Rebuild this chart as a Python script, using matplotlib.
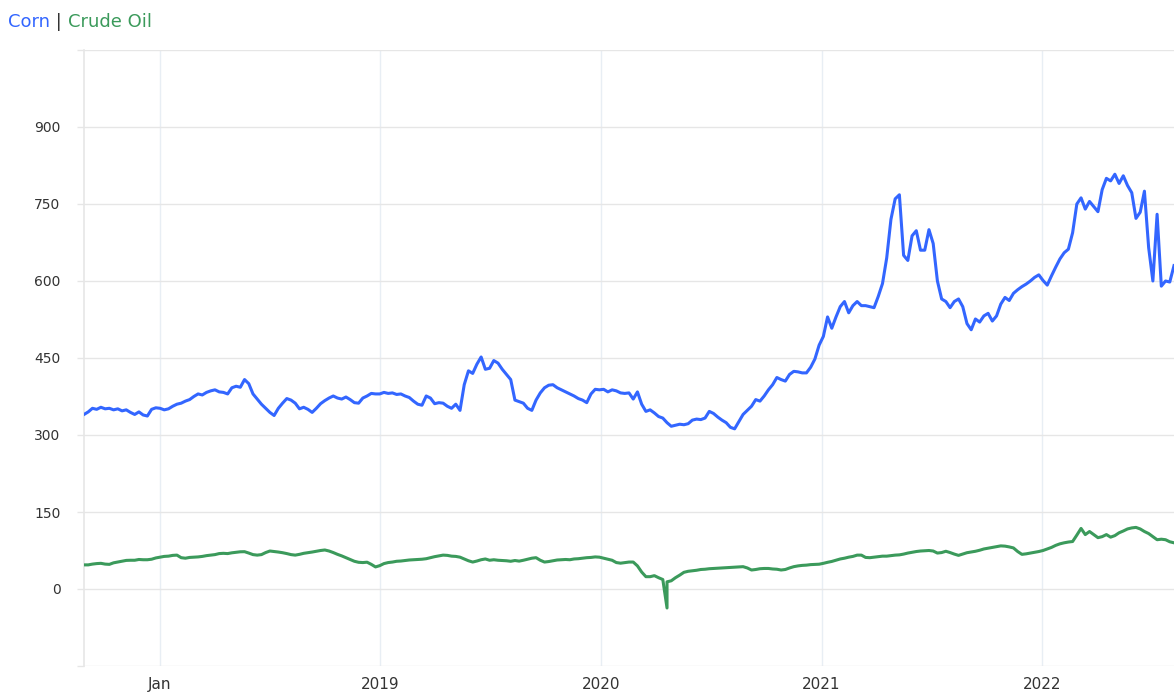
"""Corn vs crude oil weekly price chart."""

from __future__ import annotations

import matplotlib

matplotlib.use("Agg")
import matplotlib.pyplot as plt
import pandas as pd

START_DATE = "2017-08-28"

CORN = [
    340, 345, 352, 350, 354, 351, 352, 349, 351, 347, 349, 344, 340, 345, 339, 337,
    350, 353, 352, 349, 351, 356, 360, 362, 366, 369, 375, 380, 378, 383, 386, 388,
    384, 383, 380, 392, 395, 393, 408, 400, 380, 370, 360, 352, 344, 338, 352, 362,
    371, 368, 362, 351, 354, 350, 344, 352, 361, 367, 372, 376, 372, 370, 374, 369,
    363, 362, 372, 376, 381, 380, 380, 383, 381, 382, 379, 380, 376, 373, 366, 360,
    358, 376, 372, 361, 363, 362, 356, 352, 360, 348, 398, 425, 420, 438, 452, 428,
    430, 445, 440, 428, 418, 408, 368, 365, 362, 352, 348, 368, 382, 392, 397, 398,
    392, 388, 384, 380, 376, 371, 368, 363, 380, 389, 388, 389, 384, 388, 386, 382,
    381, 382, 370, 384, 360, 346, 349, 343, 336, 333, 324, 317, 319, 321, 320, 322,
    329, 331, 330, 333, 346, 342, 335, 329, 324, 315, 312, 326, 340, 348, 356, 369,
    366, 376, 388, 398, 412, 408, 405, 418, 424, 423, 421, 421, 432, 448, 475, 492,
    530, 508, 530, 550, 560, 538, 552, 560, 552, 552, 550, 548, 570, 595, 645, 720,
    760, 768, 650, 640, 688, 698, 660, 660, 700, 673, 600, 565, 560, 548, 560, 565,
    550, 517, 505, 526, 520, 532, 537, 522, 532, 555, 568, 562, 576, 583, 589, 594,
    600, 607, 612, 601, 592, 610, 627, 643, 655, 662, 694, 750, 762, 740, 755, 745,
    735, 778, 800, 795, 808, 790, 805, 786, 772, 722, 734, 775, 665, 600, 730, 590,
    600, 598, 630,
]

CRUDE_OIL = [
    47, 47, 48.5, 49.5, 50, 48.5, 48, 51, 52.5, 54, 55.7, 56, 56, 57.5, 57, 57,
    58, 60.5, 62, 63.5, 64, 65.5, 66, 61, 60, 61.5, 62, 62.5, 63.5, 65, 66, 67,
    69, 69.5, 69, 70.5, 71.5, 72.5, 72.7, 70, 67, 66, 67, 71, 74, 73, 72, 70.7,
    69, 67, 66, 67.5, 69.5, 70.7, 72, 73.5, 75, 76, 74, 71, 67.5, 64.5, 61, 57.5,
    54, 52, 51.5, 52.2, 48, 43, 45.5, 49.5, 51.5, 52.5, 54, 54.5, 55.5, 56.5, 57, 57.5,
    58, 59, 61, 63, 64.5, 66, 65.5, 64, 63.5, 62, 58.5, 55, 52.5, 54.5, 57, 58.5,
    56, 57, 56, 55.5, 55, 54, 55.5, 54.3, 56, 58, 60, 61, 56, 52.5, 53.5, 55,
    56.5, 57, 57.5, 57, 58.5, 59, 60, 61, 61.5, 62.5, 62, 60, 58, 56, 51.5, 50.3,
    51.5, 52.5, 52.5, 45, 33, 24, 24, 26, 22, 18.5, 14, 16, 22, 27, 32.5, 34.5,
    35.5, 36.5, 38, 38.5, 39.5, 40, 40.5, 41, 41.5, 42, 42.5, 43, 43.5, 41, 37, 38,
    39.5, 40, 40, 39, 38.5, 37, 38, 41, 43.5, 45, 46, 46.5, 47.5, 48, 48.3, 50,
    52, 53.7, 56, 58.5, 60, 62, 63.5, 66, 66, 61.5, 61, 62, 63, 64, 64, 65,
    66, 66.5, 68, 70, 71.5, 73, 74, 74.5, 75, 74, 70, 71, 73.5, 71, 68, 65.5,
    68, 70.7, 72, 73.5, 75.5, 78, 79.5, 81, 82.5, 84, 83.5, 82, 80, 73, 67.5, 68.5,
    70, 71.5, 73, 75, 78, 81, 85, 88, 90, 91.5, 92.5, 105, 118, 106, 112, 106,
    100, 102, 106, 101, 104, 109.5, 113, 117, 119, 120, 117, 112, 108, 102, 96, 97,
    96, 92, 90,
]

# negative settlement day, sits between two weekly samples
OIL_SPIKE_DATES = ["2020-04-20"]
OIL_SPIKE_VALUES = [-37]

X_TICK_DATES = ["2018-01-01", "2019-01-01", "2020-01-01", "2021-01-01", "2022-01-01"]
X_TICK_LABELS = ["Jan", "2019", "2020", "2021", "2022"]
Y_TICKS = [-150, 0, 150, 300, 450, 600, 750, 900, 1050]
Y_TICK_LABELS = ["", "0", "150", "300", "450", "600", "750", "900", ""]

CORN_COLOR = "#3366ff"
OIL_COLOR = "#3b9a5b"
GRID_COLOR = "#e6e6e6"
VGRID_COLOR = "#e8eef4"
TEXT_COLOR = "#333333"


def build_series() -> tuple[pd.Series, pd.Series]:
    corn = pd.Series(CORN, index=pd.date_range(START_DATE, periods=len(CORN), freq="7D"))
    oil = pd.Series(CRUDE_OIL, index=pd.date_range(START_DATE, periods=len(CRUDE_OIL), freq="7D"))
    spike = pd.Series(OIL_SPIKE_VALUES, index=pd.to_datetime(OIL_SPIKE_DATES))
    oil = pd.concat([oil, spike]).sort_index()
    return corn, oil


def draw_title(fig) -> None:
    parts = [("Corn", CORN_COLOR), (" | ", TEXT_COLOR), ("Crude Oil", OIL_COLOR)]
    renderer = fig.canvas.get_renderer()
    x = 8 / fig.bbox.width
    for text, color in parts:
        t = fig.text(x, 1 - 27 / fig.bbox.height, text, color=color, fontsize=13,
                     ha="left", va="baseline")
        bbox = t.get_window_extent(renderer=renderer)
        x += bbox.width / fig.bbox.width


def main() -> None:
    plt.rcParams["font.family"] = ["DejaVu Sans"]
    corn, oil = build_series()

    fig = plt.figure(figsize=(11.74, 6.96), dpi=100)
    ax = fig.add_axes([84 / 1174, 1 - 666 / 696, 1 - 84 / 1174, (666 - 50) / 696])

    ax.plot(oil.index, oil.values, color=OIL_COLOR, linewidth=2.2, zorder=3)
    ax.plot(corn.index, corn.values, color=CORN_COLOR, linewidth=2.2, zorder=4)

    ax.set_xlim(corn.index[0], corn.index[-1])
    ax.set_ylim(-150, 1050)

    ax.set_yticks(Y_TICKS)
    ax.set_yticklabels(Y_TICK_LABELS)
    ax.set_xticks(pd.to_datetime(X_TICK_DATES))
    ax.set_xticklabels(X_TICK_LABELS)

    ax.tick_params(axis="y", length=5, width=1, color=GRID_COLOR, pad=12,
                   labelsize=10, labelcolor=TEXT_COLOR)
    ax.tick_params(axis="x", length=0, pad=8, labelsize=11, labelcolor=TEXT_COLOR)

    ax.grid(axis="y", color=GRID_COLOR, linewidth=1)
    ax.grid(axis="x", color=VGRID_COLOR, linewidth=1)
    ax.set_axisbelow(True)

    for side in ("top", "right", "bottom"):
        ax.spines[side].set_visible(False)
    ax.spines["left"].set_color(GRID_COLOR)
    ax.spines["left"].set_linewidth(1.2)

    draw_title(fig)
    fig.savefig("out.png", dpi=100)
    plt.close(fig)


if __name__ == "__main__":
    main()
